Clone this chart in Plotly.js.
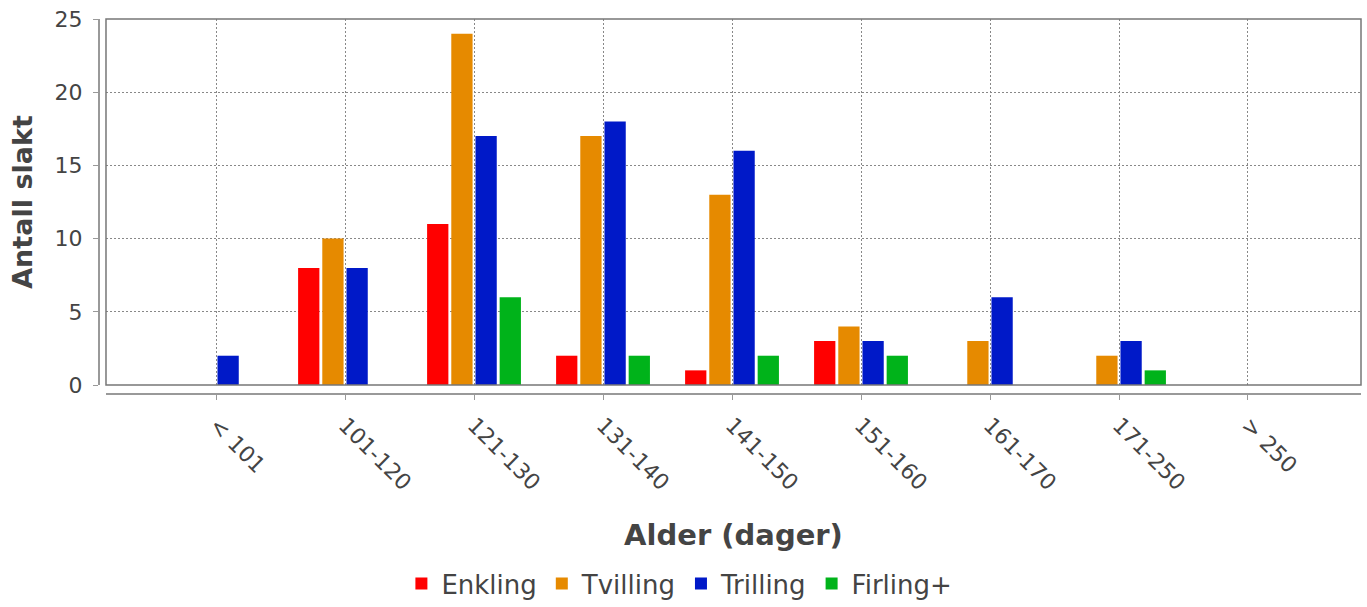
<!DOCTYPE html>
<html>
<head>
<meta charset="utf-8">
<script src="https://cdn.plot.ly/plotly-3.0.1.min.js"></script>
<style>html,body{margin:0;padding:0;background:#fff;}#chart{width:1367px;height:607px;}</style>
</head>
<body>
<div id="chart"></div>
<script>
const categories = ["< 101", "101-120", "121-130", "131-140", "141-150", "151-160", "161-170", "171-250", "> 250"];
const seriesNames = ["Enkling", "Tvilling", "Trilling", "Firling+"];
const enkling  = [0, 8, 11, 2, 1, 3, 0, 0, 0];
const tvilling = [0, 10, 24, 17, 13, 4, 3, 2, 0];
const trilling = [2, 8, 17, 18, 16, 3, 6, 3, 0];
const firling  = [0, 0, 6, 2, 2, 2, 0, 1, 0];
const yTicks = [0, 5, 10, 15, 20, 25];

const colors = ["#ff0000", "#e68a00", "#0019c8", "#00b31a"];
const values = [enkling, tvilling, trilling, firling];

const font = "DejaVu Sans, Verdana, sans-serif";
const traces = values.map((v, i) => ({
  type: "bar",
  name: seriesNames[i],
  x: categories,
  y: v,
  marker: {color: colors[i], line: {width: 0}},
  hoverinfo: "x+y+name"
}));

const layout = {
  width: 1367, height: 607,
  margin: {l: 98, r: 6, t: 19, b: 214},
  paper_bgcolor: "#ffffff",
  plot_bgcolor: "#ffffff",
  barmode: "group",
  bargap: 0.25,
  bargroupgap: 0.12,
  font: {family: font, color: "#444444"},
  xaxis: {
    domain: [0.00633, 1],
    anchor: "free",
    position: 0,
    type: "category",
    range: [-0.853, 8.876],
    showline: true, linecolor: "#999999", linewidth: 1.5,
    ticks: "outside", ticklen: 5, tickcolor: "#999999",
    tickangle: 45,
    ticklabelstandoff: 4,
    tickfont: {size: 22, color: "#444444", family: font},
    showgrid: true, gridcolor: "#888888", gridwidth: 1, griddash: "2px,2px",
    zeroline: false,
    title: {text: "Alder (dager)", font: {size: 29, color: "#444444", family: font, weight: "bold"}, standoff: 30}
  },
  yaxis: {
    domain: [0.0214, 1],
    anchor: "free",
    position: 0,
    range: [0, 25],
    tickvals: yTicks,
    showline: true, linecolor: "#999999", linewidth: 1.5,
    ticks: "outside", ticklen: 5, tickcolor: "#999999",
    ticklabelstandoff: 6,
    tickfont: {size: 22, color: "#444444", family: font},
    showgrid: true, gridcolor: "#888888", gridwidth: 1, griddash: "2px,2px",
    zeroline: false,
    title: {text: "Antall slakt", font: {size: 27, color: "#444444", family: font, weight: "bold"}, standoff: 12}
  },
  legend: {
    orientation: "h", x: 0.497, xref: "container", xanchor: "center",
    y: -0.012, yref: "container", yanchor: "bottom",
    font: {size: 26, color: "#444444", family: font},
    itemwidth: 30, traceorder: "normal"
  },
  shapes: [
    {type: "rect", xref: "paper", yref: "paper", x0: 0.00633, x1: 1, y0: 0.0214, y1: 1,
     line: {color: "#777777", width: 1.5}, fillcolor: "rgba(0,0,0,0)", layer: "above"}
  ],
  showlegend: true
};

Plotly.newPlot("chart", traces, layout, {displayModeBar: false, staticPlot: true});
</script>
</body>
</html>
